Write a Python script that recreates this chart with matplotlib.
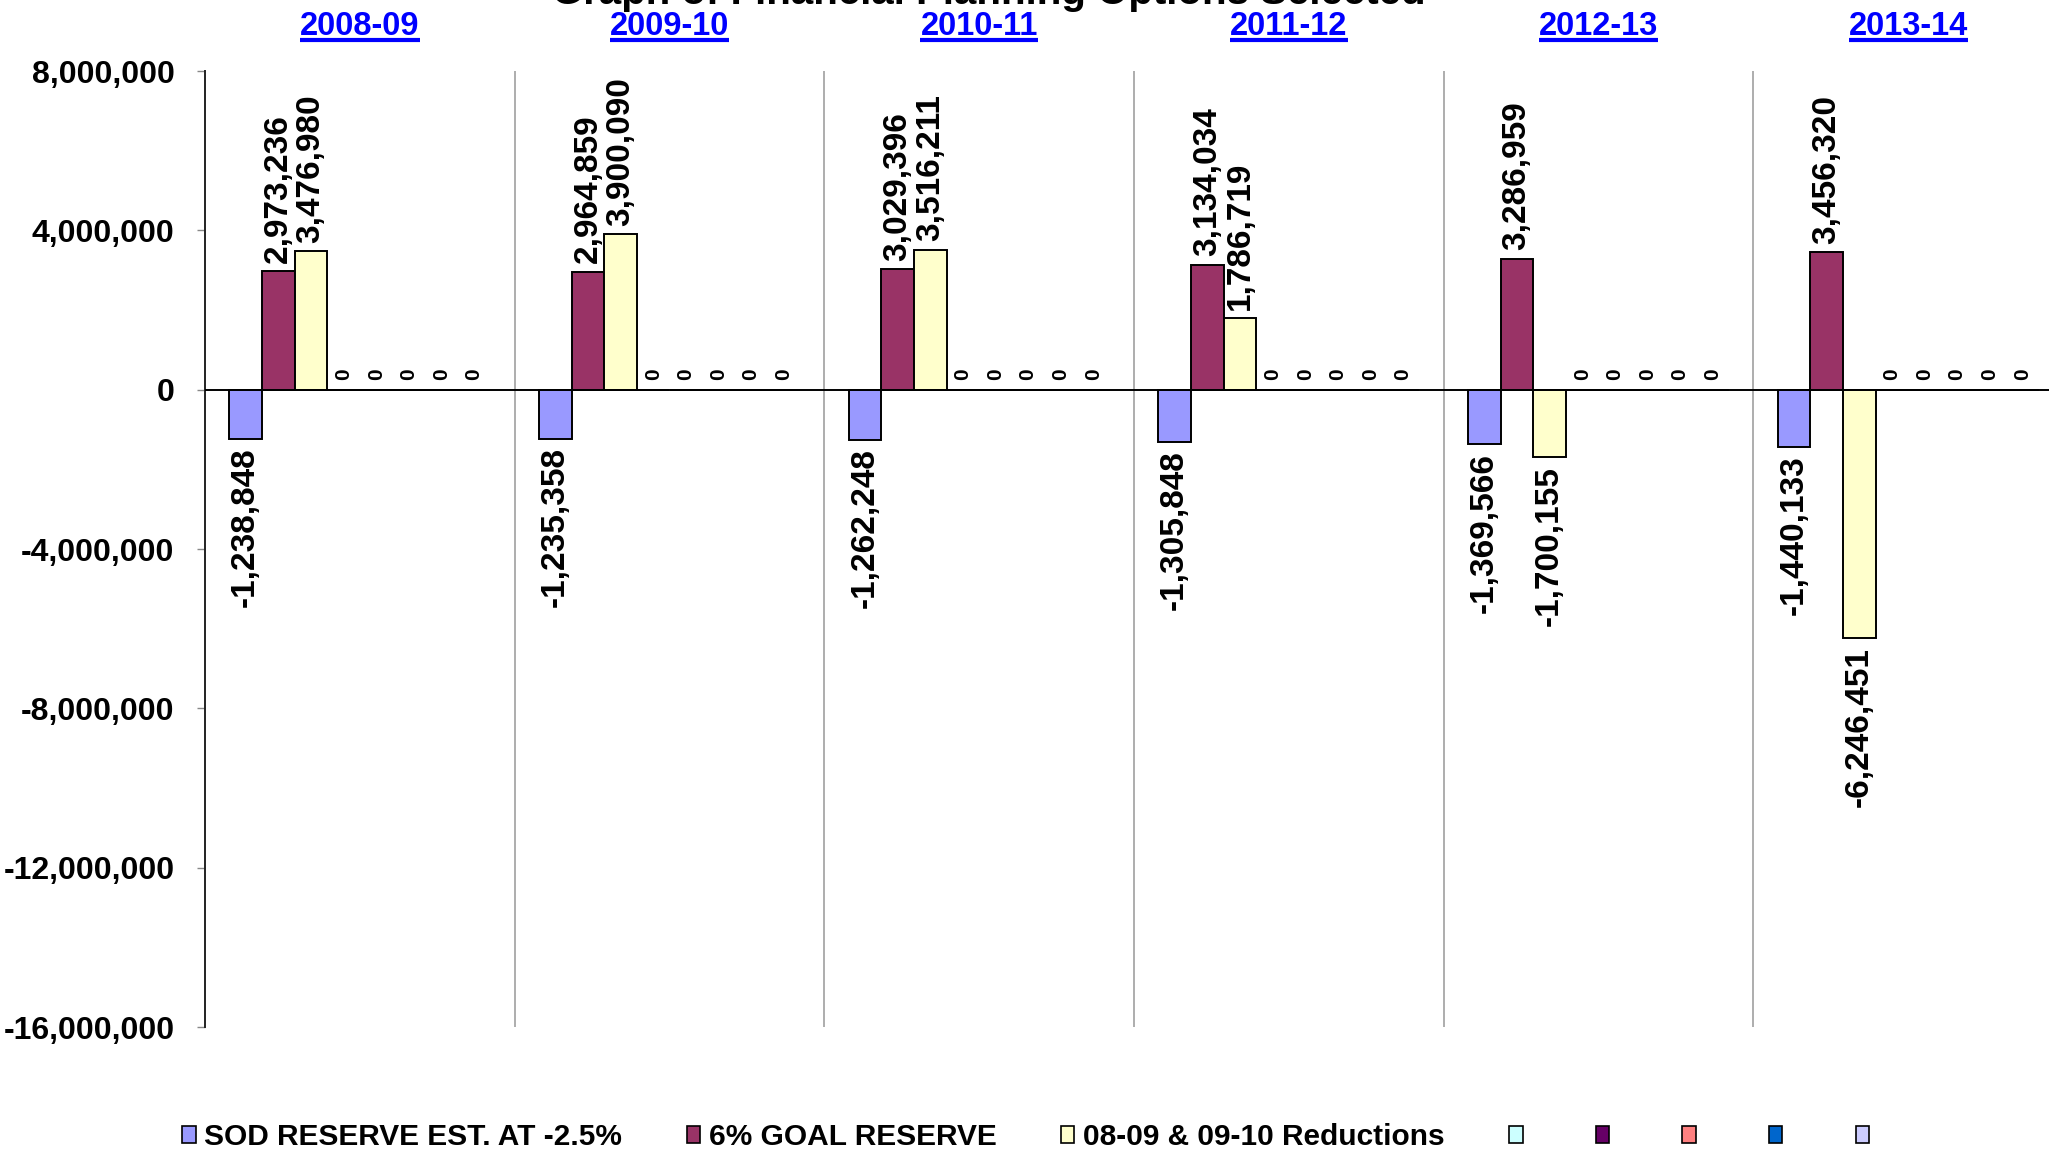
import matplotlib
matplotlib.use("Agg")
import matplotlib.pyplot as plt
from matplotlib.patches import Rectangle
from matplotlib.lines import Line2D
import numpy as np

plt.rcParams['font.family'] = ['Liberation Sans', 'DejaVu Sans']
plt.rcParams['font.weight'] = 'bold'

title = "Graph of Financial Planning Options Selected"
categories = ["2008-09", "2009-10", "2010-11", "2011-12", "2012-13", "2013-14"]
series_names = ["SOD RESERVE EST. AT -2.5%", "6% GOAL RESERVE", "08-09 & 09-10 Reductions",
                "", "", "", "", ""]
sod_reserve = [-1238848, -1235358, -1262248, -1305848, -1369566, -1440133]
goal_reserve = [2973236, 2964859, 3029396, 3134034, 3286959, 3456320]
reductions = [3476980, 3900090, 3516211, 1786719, -1700155, -6246451]
empty4 = [0, 0, 0, 0, 0, 0]
empty5 = [0, 0, 0, 0, 0, 0]
empty6 = [0, 0, 0, 0, 0, 0]
empty7 = [0, 0, 0, 0, 0, 0]
empty8 = [0, 0, 0, 0, 0, 0]
series_values = [sod_reserve, goal_reserve, reductions, empty4, empty5, empty6, empty7, empty8]
colors = ["#9999FF", "#993366", "#FFFFCC", "#CCFFFF", "#660066", "#FF8080", "#0066CC", "#CCCCFF"]
yticks = [8000000, 4000000, 0, -4000000, -8000000, -12000000, -16000000]

W, H = 2049, 1151
fig = plt.figure(figsize=(W / 100, H / 100), dpi=100)
ax_left, ax_right, ax_top, ax_bottom = 205, 2063, 71, 1027
ax = fig.add_axes([ax_left / W, 1 - ax_bottom / H, (ax_right - ax_left) / W, (ax_bottom - ax_top) / H])

n = len(series_values)
slots = n + 1.5
bw = 1.0 / slots
x = np.arange(len(categories))
for i, (vals, col) in enumerate(zip(series_values, colors)):
    xc = x - 0.5 + (0.75 + 0.5 + i) * bw
    ax.bar(xc, vals, width=bw, color=col, edgecolor='black', linewidth=1.4, zorder=3)
    for xi, v in zip(xc, vals):
        lbl = f"{v:,}"
        if v > 0:
            ax.annotate(lbl, (xi, v), xytext=(0, 6), textcoords='offset points',
                        rotation=90, ha='center', va='bottom', fontsize=24, fontweight='bold', zorder=5)
        elif v == 0:
            ax.annotate(lbl, (xi, v), xytext=(0, 7), textcoords='offset points',
                        rotation=90, ha='center', va='bottom', fontsize=15, fontweight='bold', zorder=5)
        else:
            ax.annotate(lbl, (xi, v), xytext=(0, -6), textcoords='offset points',
                        rotation=90, ha='center', va='top', fontsize=24, fontweight='bold', zorder=5)

ax.set_xlim(-0.5, len(categories) - 0.5)
ax.set_ylim(-16000000, 8000000)
ax.set_yticks(yticks)
ax.set_yticklabels([f"{t:,}" for t in yticks], fontsize=23, fontweight='bold')
ax.tick_params(axis='y', length=6, width=1, color='#888888', pad=16, direction='out')

for b in np.arange(0.5, len(categories), 1.0):
    ax.axvline(b, color='#A0A0A0', lw=1.2, zorder=1)
ax.axhline(0, color='black', lw=1.4, zorder=4)

for s in ['top', 'right', 'bottom']:
    ax.spines[s].set_visible(False)
ax.spines['left'].set_color('#222222')
ax.spines['left'].set_linewidth(1.4)

ax.set_xticks(x)
ax.set_xticklabels(categories, fontsize=23.5, fontweight='bold', color='#0000FF')
ax.xaxis.tick_top()
ax.tick_params(axis='x', length=0, pad=21)

fig.text(989 / W, 1 - 4 / H, title, ha='center', va='baseline', fontsize=29, fontweight='bold')

handles = [Rectangle((0, 0), 1, 1, facecolor=c, edgecolor='black', linewidth=1.2) for c in colors]
fig.legend(handles, series_names, loc='center', bbox_to_anchor=(1030 / W, 1 - 1137 / H), ncol=8,
           frameon=False, handlelength=0.45, handleheight=0.5, handletextpad=0.3,
           columnspacing=2.15, prop={'weight': 'bold', 'size': 21.5})

fig.canvas.draw()
r = fig.canvas.get_renderer()
inv = fig.transFigure.inverted()
for t in ax.get_xticklabels():
    bb = t.get_window_extent(renderer=r)
    (x0, y0), (x1, y1) = inv.transform([(bb.x0, bb.y0), (bb.x1, bb.y0)])
    fig.add_artist(Line2D([x0, x1], [1 - 39.5 / H, 1 - 39.5 / H], transform=fig.transFigure,
                          color='#0000FF', lw=3, solid_capstyle='butt'))

fig.savefig("out.png", dpi=100)
